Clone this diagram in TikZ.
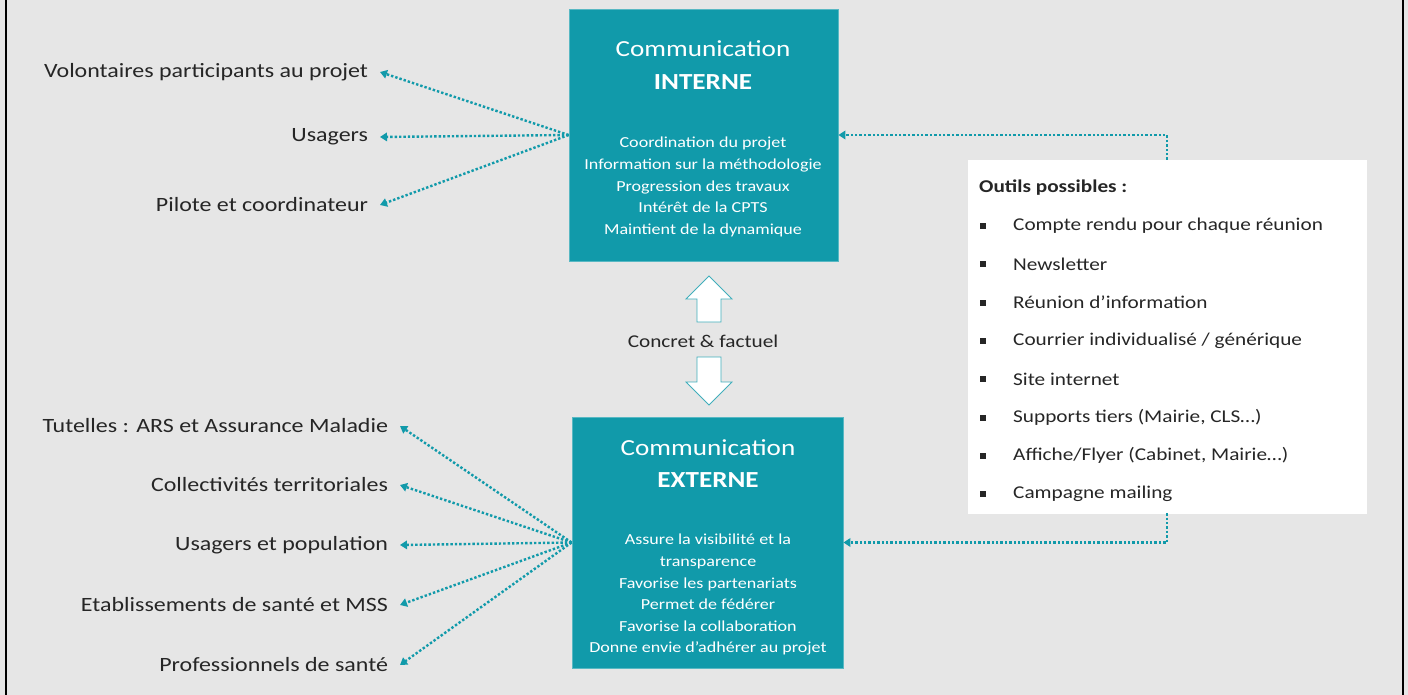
\documentclass[tikz,border=0pt]{standalone}
\usepackage{fontspec}
\setmainfont{Carlito}[FakeStretch=1.18]
\usetikzlibrary{arrows.meta}
\definecolor{bg}{HTML}{E6E6E6}
\definecolor{teal}{HTML}{119AAA}
\definecolor{ink}{HTML}{262626}
\tikzset{
  cbox/.style={draw=teal!70!white, line width=0.8pt, fill=teal, minimum width=#1, inner sep=0},
  ttl/.style={text=white, font=\fontsize{23}{25}\selectfont, inner sep=0},
  ttlb/.style={text=white, font=\fontsize{23}{25}\selectfont\bfseries, inner sep=0},
  body/.style={text=white, font=\fontsize{15.3}{21.6}\selectfont, align=center, inner sep=0},
  lab/.style={text=ink, font=\fontsize{20.3}{24}\selectfont, inner sep=0, outer xsep=12pt, anchor=east},
  arr/.style={draw=teal, line width=2.4pt, dash pattern=on 2.4pt off 2pt, -{Triangle[length=7pt,width=8.5pt]}},
  blk/.style={draw=teal!80!white, line width=0.8pt, fill=white},
  item/.style={text=ink, font=\fontsize{18}{20}\selectfont, inner sep=0, anchor=west},
}
\begin{document}
\begin{tikzpicture}[x=1pt,y=-1pt]
\fill[bg] (0,0) rectangle (1408,695);
\useasboundingbox (0,0) rectangle (1408,695);
\draw[black, line width=2.2pt] (6,0) -- (6,695);
\draw[black, line width=2.2pt] (1403,0) -- (1403,695);

% boxes
\node[cbox=269pt, minimum height=252pt] (interne) at (703.5,135) {};
\node[cbox=271pt, minimum height=251pt] (externe) at (707.5,542.5) {};
\node[draw=white, fill=white, minimum width=398pt, minimum height=353pt, inner sep=0] (outils) at (1167,336.5) {};

% interne text
\node[ttl] (it1) at (703,49) {Communication};
\node[ttlb] (it2) at (703,82) {INTERNE};
\node[body, anchor=north] (ib) at (703,137) {Coordination du projet\\Information sur la méthodologie\\Progression des travaux\\Intérêt de la CPTS\\Maintient de la dynamique};

% externe text
\node[ttl] (et1) at (708,448) {Communication};
\node[ttlb] (et2) at (708,480) {EXTERNE};
\node[body, anchor=north] (eb) at (708,534) {Assure la visibilité et la\\transparence\\Favorise les partenariats\\Permet de fédérer\\Favorise la collaboration\\Donne envie d’adhérer au projet};

% block arrows
\draw[blk] (709,276) -- (732,299) -- (721,299) -- (721,322) -- (697,322) -- (697,299) -- (686,299) -- cycle;
\draw[blk] (709,405) -- (732,382) -- (721,382) -- (721,357) -- (697,357) -- (697,382) -- (686,382) -- cycle;
\node[text=ink, font=\fontsize{18}{20}\selectfont, inner sep=0] (cf) at (703,341) {Concret \& factuel};

% left labels top
\node[lab] (l1) at (380,72) {Volontaires participants au projet};
\node[lab] (l2) at (380,137) {Usagers};
\node[lab] (l3) at (380,205) {Pilote et coordinateur};
\foreach \n in {l1,l2,l3} \draw[arr] (interne.west) -- (\n.east);

% left labels bottom
\node[lab] (m1) at (400,426) {Tutelles : ARS et Assurance Maladie};
\node[lab] (m2) at (400,485) {Collectivités territoriales};
\node[lab] (m3) at (400,545) {Usagers et population};
\node[lab] (m4) at (400,605) {Etablissements de santé et MSS};
\node[lab] (m5) at (400,665) {Professionnels de santé};
\foreach \n in {m1,m2,m3,m4,m5} \draw[arr] (externe.west) -- (\n.east);

% outils content
\node[item, font=\fontsize{18}{20}\selectfont\bfseries] (oh) at (979,188) {Outils possibles :};
\foreach \t [count=\i] in {Compte rendu pour chaque réunion, Newsletter, Réunion d’information, Courrier individualisé / générique, Site internet, {Supports tiers (Mairie, CLS…)}, {Affiche/Flyer (Cabinet, Mairie…)}, Campagne mailing}{
  \pgfmathsetmacro{\yy}{226+(\i-1)*38.3}
  \fill[ink] (980,\yy-3) rectangle ++(6,6);
  \node[item] (o\i) at (1013,\yy) {\t};
}

% right connectors
\draw[arr] (outils.north) |- (interne.east);
\draw[arr] (outils.south) |- (externe.east);
\end{tikzpicture}
\end{document}
